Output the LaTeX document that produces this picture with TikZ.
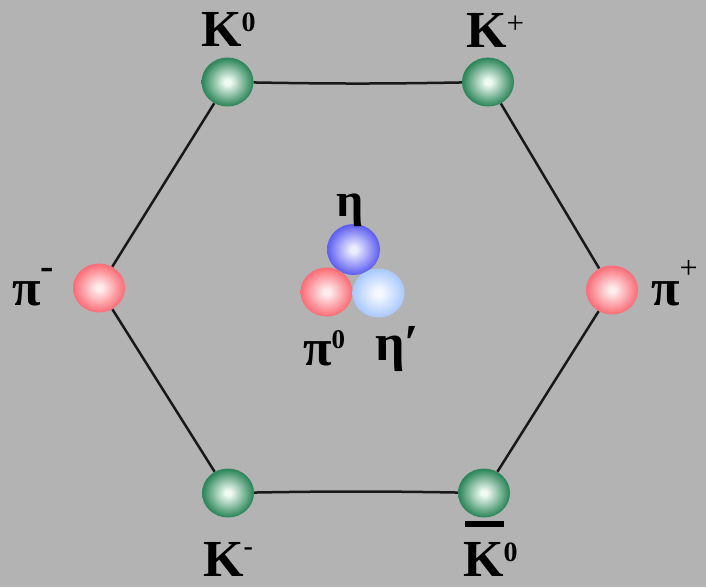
\documentclass[tikz,border=0pt]{standalone}
\usepackage{fontspec}
\setmainfont{Liberation Serif}
\usetikzlibrary{shapes.geometric}
\definecolor{bg}{RGB}{179,179,179}
\definecolor{gW}{RGB}{238,250,242}
\definecolor{gM}{RGB}{48,136,92}
\definecolor{gMb}{RGB}{33,110,72}
\definecolor{gD}{RGB}{20,80,52}
\definecolor{rW}{RGB}{255,236,236}
\definecolor{rM}{RGB}{250,112,122}
\definecolor{rMb}{RGB}{240,92,102}
\definecolor{rD}{RGB}{222,78,88}
\definecolor{bW}{RGB}{236,236,255}
\definecolor{bM}{RGB}{98,98,242}
\definecolor{bMb}{RGB}{78,78,228}
\definecolor{bD}{RGB}{58,58,192}
\definecolor{lW}{RGB}{246,250,255}
\definecolor{lM}{RGB}{172,202,255}
\definecolor{lMb}{RGB}{156,188,250}
\definecolor{lD}{RGB}{130,165,236}
\pgfdeclareradialshading{gball}{\pgfpoint{0bp}{0bp}}{color(0bp)=(gW); color(3bp)=(gW); color(24bp)=(gM); color(40bp)=(gMb); color(50bp)=(gD)}
\pgfdeclareradialshading{rball}{\pgfpoint{0bp}{0bp}}{color(0bp)=(rW); color(3bp)=(rW); color(24bp)=(rM); color(40bp)=(rMb); color(50bp)=(rD)}
\pgfdeclareradialshading{bball}{\pgfpoint{0bp}{0bp}}{color(0bp)=(bW); color(3bp)=(bW); color(24bp)=(bM); color(40bp)=(bMb); color(50bp)=(bD)}
\pgfdeclareradialshading{lball}{\pgfpoint{0bp}{0bp}}{color(0bp)=(lW); color(3bp)=(lW); color(24bp)=(lM); color(40bp)=(lMb); color(50bp)=(lD)}
\newcommand{\supsz}{\fontsize{28}{28}\selectfont}
\tikzset{
  ball/.style={ellipse, inner sep=0pt, minimum width=52pt, minimum height=49pt},
  green/.style={ball, shading=gball},
  red/.style={ball, shading=rball},
  edge/.style={line width=2.5pt, black!90},
  lab/.style={inner sep=0pt, anchor=base west, font=\fontsize{52}{52}\selectfont\bfseries}
}
\begin{document}
\begin{tikzpicture}[x=1pt,y=1pt]
\useasboundingbox (0,0) rectangle (706,587);
\fill[bg] (0,0) rectangle (706,587);
% balls
\node[green] (k0) at (227.5,505) {};
\node[green] (kp) at (488,505) {};
\node[red] (pim) at (99,299) {};
\node[red] (pip) at (612,297) {};
\node[green] (km) at (228,94) {};
\node[green] (k0b) at (484,94) {};
\node[ball, minimum width=53pt, minimum height=51pt, shading=bball] (eta) at (353.5,337.5) {};
\node[red] (pi0) at (326.5,295) {};
\node[ball, shading=lball] (etap) at (378.5,294) {};
% hexagon
\draw[edge] (k0) to[bend right=1] (kp);
\draw[edge] (kp) -- (pip);
\draw[edge] (pip) -- (k0b);
\draw[edge] (k0b) to[bend right=1] (km);
\draw[edge] (km) -- (pim);
\draw[edge] (pim) -- (k0);
% labels
\node[lab] (lk0) at (201,540) {K\raisebox{15pt}{\supsz 0}};
\node[lab] (lkp) at (466,539) {K\raisebox{14pt}{\fontsize{31}{31}\selectfont\mdseries +}};
\node[lab] (lpim) at (12,282) {π\raisebox{26pt}{\fontsize{40}{40}\selectfont -}};
\node[lab] (lpip) at (651,282) {π\raisebox{27pt}{\fontsize{32}{32}\selectfont\mdseries +}};
\node[lab] (lkm) at (203,11) {K\raisebox{21pt}{\fontsize{28}{28}\selectfont -}};
\node[lab] (lk0b) at (463,11) {K\raisebox{15pt}{\supsz 0}};
\fill (465,60) rectangle (504,66);
\node[lab, font=\fontsize{48}{48}\selectfont\bfseries] (leta) at (336,370) {η};
\node[lab] (lpi0) at (303,222) {π\raisebox{17pt}{\fontsize{27}{27}\selectfont 0}};
\node[lab] (letap) at (375,227) {η′};
\end{tikzpicture}
\end{document}
